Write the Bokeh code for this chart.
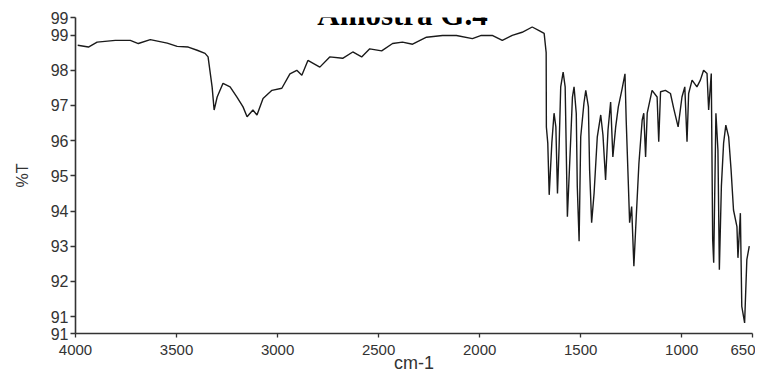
from bokeh.plotting import figure
from bokeh.models import Range1d, FixedTicker, Label, ColumnDataSource
from bokeh.embed import file_html
from bokeh.resources import INLINE

title_text = "Amostra G.4"
x_label = "cm-1"
y_label = "%T"

wavenumber = [3989, 3936, 3893, 3803, 3729, 3689, 3630, 3546, 3497, 3442, 3398, 3359, 3344,
              3324, 3314, 3299, 3270, 3235, 3201, 3171, 3151, 3122, 3102, 3072, 3028, 2979,
              2939, 2905, 2880, 2850, 2791, 2742, 2678, 2628, 2584, 2544, 2485, 2431, 2382,
              2332, 2263, 2184, 2115, 2036, 1992, 1938, 1888, 1839, 1790, 1740, 1706, 1681,
              1671, 1670, 1663, 1656, 1643, 1632, 1623, 1615, 1607, 1599, 1587, 1577, 1566,
              1549, 1541, 1533, 1522, 1517, 1508, 1500, 1484, 1475, 1462, 1456, 1446, 1434,
              1418, 1401, 1390, 1377, 1365, 1352, 1341, 1327, 1314, 1295, 1281, 1275, 1265,
              1258, 1248, 1237, 1226, 1212, 1196, 1188, 1179, 1171, 1147, 1122, 1114, 1105,
              1081, 1056, 1040, 1018, 999, 985, 974, 966, 949, 925, 908, 892, 875, 867, 854,
              847, 842, 831, 821, 814, 804, 793, 782, 768, 756, 744, 727, 722, 710, 703, 689,
              678, 666]
transmittance = [98.71, 98.66, 98.80, 98.85, 98.85, 98.76, 98.87, 98.77, 98.68, 98.66, 98.57,
                 98.48, 98.38, 97.53, 96.87, 97.24, 97.63, 97.53, 97.24, 96.96, 96.68, 96.87,
                 96.73, 97.20, 97.43, 97.49, 97.90, 98.00, 97.86, 98.28, 98.09, 98.38, 98.34,
                 98.52, 98.38, 98.61, 98.55, 98.76, 98.80, 98.74, 98.94, 98.99, 98.99, 98.90,
                 98.99, 98.99, 98.85, 98.99, 99.08, 99.23, 99.13, 99.05, 98.50, 96.39, 95.93,
                 94.46, 95.93, 96.78, 96.39, 94.50, 95.83, 97.53, 97.95, 97.53, 93.84, 96.11,
                 97.24, 97.53, 96.77, 94.70, 93.14, 96.11, 97.07, 97.43, 96.96, 95.17, 93.67,
                 94.50, 96.11, 96.73, 96.16, 94.88, 96.30, 97.10, 95.54, 96.39, 96.96, 97.48,
                 97.90, 96.58, 94.88, 93.67, 94.13, 92.43, 93.75, 95.36, 96.58, 96.78, 95.54,
                 96.78, 97.43, 97.24, 95.97, 97.39, 97.43, 97.34, 96.92, 96.39, 97.24, 97.53,
                 95.97, 97.34, 97.72, 97.53, 97.72, 98.00, 97.91, 96.87, 97.91, 93.18, 92.53,
                 96.78, 95.73, 92.33, 94.70, 95.93, 96.44, 96.11, 95.17, 94.03, 93.56, 92.67,
                 93.94, 91.29, 90.82, 92.62, 93.00]

x_ticks = [4000, 3500, 3000, 2500, 2000, 1500, 1000, 650]
y_ticks = [90.52, 91, 92, 93, 94, 95, 96, 97, 98, 99, 99.5]
y_tick_labels = ["91", "91", "92", "93", "94", "95", "96", "97", "98", "99", "99"]

p = figure(width=755, height=375, output_backend="svg", toolbar_location=None,
           x_range=Range1d(4000, 650), y_range=Range1d(90.52, 99.5),
           min_border_left=75, min_border_right=3, min_border_top=17, min_border_bottom=42)
p.outline_line_color = None
p.xgrid.visible = False
p.ygrid.visible = False

src = ColumnDataSource(dict(x=wavenumber, y=transmittance))
p.line("x", "y", source=src, line_color="#1a1a1a", line_width=1.4)

p.xaxis.ticker = FixedTicker(ticks=x_ticks)
p.yaxis.ticker = FixedTicker(ticks=y_ticks)
p.yaxis.major_label_overrides = {t: l for t, l in zip(y_ticks, y_tick_labels)}
p.xaxis.major_label_overrides = {t: str(t) for t in x_ticks}

for ax in (p.xaxis, p.yaxis):
    ax.axis_line_color = "#333333"
    ax.axis_line_width = 1.6
    ax.major_tick_line_color = "#333333"
    ax.major_tick_line_width = 1.3
    ax.minor_tick_line_color = None
    ax.major_tick_in = 0
    ax.major_label_text_font = "Liberation Sans"
    ax.major_label_text_color = "#333333"
    ax.axis_label_text_font = "Liberation Sans"
    ax.axis_label_text_font_style = "normal"
    ax.axis_label_text_color = "#333333"

p.xaxis.major_tick_out = 4
p.xaxis.major_label_standoff = 7
p.xaxis.major_label_text_font_size = "15px"
p.xaxis.axis_label = x_label
p.xaxis.axis_label_text_font_size = "18px"
p.xaxis.axis_label_standoff = -5

p.yaxis.major_tick_out = 5
p.yaxis.major_label_standoff = 2
p.yaxis.major_label_text_font_size = "16px"
p.yaxis.axis_label = y_label
p.yaxis.axis_label_text_font_size = "16px"
p.yaxis.axis_label_standoff = 17

p.add_layout(Label(x=2382, y=99.585, text=title_text, text_align="center",
                   text_baseline="alphabetic", text_font="Liberation Serif",
                   text_font_style="bold", text_font_size="31px", text_color="#000000"))

open("out.html", "w").write(file_html(p, INLINE))
